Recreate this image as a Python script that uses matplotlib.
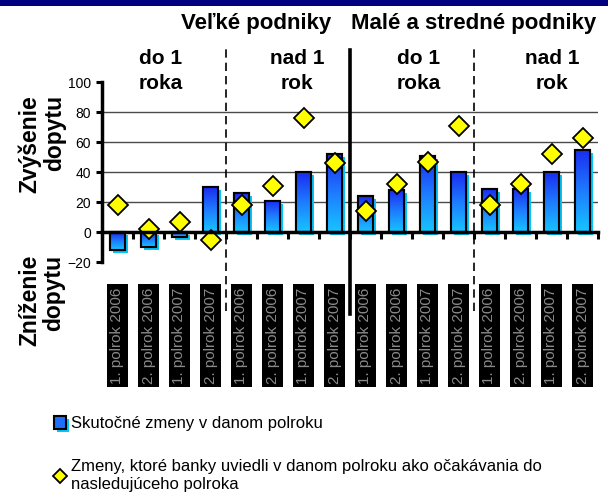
import matplotlib
matplotlib.use('Agg')
import matplotlib.pyplot as plt
import matplotlib.patheffects as pe
from matplotlib.colors import LinearSegmentedColormap
from matplotlib.patches import Rectangle
import numpy as np

plt.rcParams['font.family'] = ['Liberation Sans', 'DejaVu Sans']

# data
periods = ['1. polrok 2006', '2. polrok 2006', '1. polrok 2007', '2. polrok 2007'] * 4
actual = [-12, -10, -3, 30, 26, 21, 40, 52, 24, 28, 51, 40, 29, 29, 40, 55]
expected = [18, 2, 7, -5, 18, 31, 76, 46, 14, 32, 47, 71, 18, 32, 52, 63]
group_size = 4

label_actual = 'Skutočné zmeny v danom polroku'
label_expected = ('Zmeny, ktoré banky uviedli v danom polroku ako očakávania do\n'
                  'nasledujúceho polroka')

W, H = 608, 504
fig = plt.figure(figsize=(W / 100, H / 100), dpi=100)
ax = fig.add_axes([102 / W, 1 - 262 / H, 496 / W, 180 / H])

# navy band on top
fig.patches.append(Rectangle((0, 1 - 6 / H), 1, 6 / H, transform=fig.transFigure,
                             facecolor='#000080', edgecolor='none'))

x = np.arange(len(actual))

for lvl in [20, 40, 60, 80]:
    ax.axhline(lvl, color='#4a4a4a', lw=1, zorder=0)

# bars with cyan shadow and blue gradient
bars = ax.bar(x, actual, width=0.48, facecolor='#1f6fff', edgecolor='black', lw=1.5,
              zorder=2, label=label_actual,
              path_effects=[pe.SimplePatchShadow(offset=(2.2, -2.2), shadow_rgbFace='#00c8ff',
                                                 alpha=1.0), pe.Normal()])
cmap = LinearSegmentedColormap.from_list('bar', ['#1a2cf0', '#1e7cff', '#16c4ff'])
grad = np.linspace(0, 1, 64).reshape(-1, 1)
for rect in bars:
    x0, w = rect.get_x(), rect.get_width()
    y0, h = rect.get_y(), rect.get_height()
    im = ax.imshow(grad, cmap=cmap, extent=[x0, x0 + w, min(y0, y0 + h), max(y0, y0 + h)],
                   aspect='auto', origin='upper', zorder=2.5)
    im.set_clip_path(rect)
ax.bar(x, actual, width=0.48, fill=False, edgecolor='black', lw=1.5, zorder=3)

diamonds, = ax.plot(x, expected, linestyle='none', marker='D', markersize=10,
                    markerfacecolor='#ffff00', markeredgecolor='black', markeredgewidth=1.3,
                    zorder=4, clip_on=False, label=label_expected)

ax.set_xlim(-0.5, len(actual) - 0.5)
ax.set_ylim(-20, 100)

# axes styling
ax.spines['top'].set_visible(False)
ax.spines['right'].set_visible(False)
ax.spines['bottom'].set_position(('data', 0))
ax.spines['bottom'].set_linewidth(2.5)
ax.spines['left'].set_linewidth(2.5)
ax.spines['bottom'].set_zorder(5)

ax.set_yticks(range(-20, 101, 20))
ax.tick_params(axis='y', length=4, width=2.2, labelsize=10, pad=4)

ax.set_xticks(np.arange(-0.5, len(actual)), [''] * (len(actual) + 1))
ax.tick_params(axis='x', which='major', direction='out', length=5, width=2.2)
ax.set_xticks(x, periods, minor=True)
ax.tick_params(axis='x', which='minor', length=0, pad=40, labelsize=11,
               labelcolor='#8a8a8a', labelrotation=90)
for t in ax.get_xticklabels(minor=True):
    t.set_bbox(dict(facecolor='black', edgecolor='none', pad=2.3))

# group separators
for b in range(group_size, len(actual), group_size):
    if b == len(actual) // 2:
        ax.axvline(b - 0.5, ymin=-0.29, ymax=1.18, color='black', lw=2.6, clip_on=False, zorder=6)
    else:
        ax.axvline(b - 0.5, ymin=-0.27, ymax=1.19, color='black', lw=1.2, ls=(0, (5, 3)),
                   clip_on=False, zorder=6)

# headers
hdr = dict(fontsize=16, fontweight='bold', ha='center', va='center')
fig.text(256 / W, 1 - 23 / H, 'Veľké podniky', **hdr)
fig.text(474 / W, 1 - 23 / H, 'Malé a stredné podniky', **hdr)
sub = dict(fontsize=15, fontweight='bold', ha='center', va='center', linespacing=1.35)
fig.text(161 / W, 1 - 71 / H, 'do 1\nroka', **sub)
fig.text(297 / W, 1 - 71 / H, 'nad 1\nrok', **sub)
fig.text(419 / W, 1 - 71 / H, 'do 1\nroka', **sub)
fig.text(552 / W, 1 - 71 / H, 'nad 1\nrok', **sub)

ylab = dict(fontsize=16.5, fontweight='bold', rotation=90, ha='center', va='top',
            multialignment='right', linespacing=1.05)
fig.text(42 / W, 1 - 95 / H, 'Zvýšenie\ndopytu', **ylab)
fig.text(42 / W, 1 - 255 / H, 'Zníženie\ndopytu', **ylab)

fig.legend(handles=[bars, diamonds], labels=[label_actual, label_expected],
           loc='upper left', bbox_to_anchor=(54 / W, 1 - 416 / H), frameon=False,
           fontsize=12, borderpad=0, borderaxespad=0, labelspacing=1.7,
           handlelength=0.7, handleheight=0.8, handletextpad=0.3, markerscale=0.7)

fig.savefig('out.png', dpi=100)
